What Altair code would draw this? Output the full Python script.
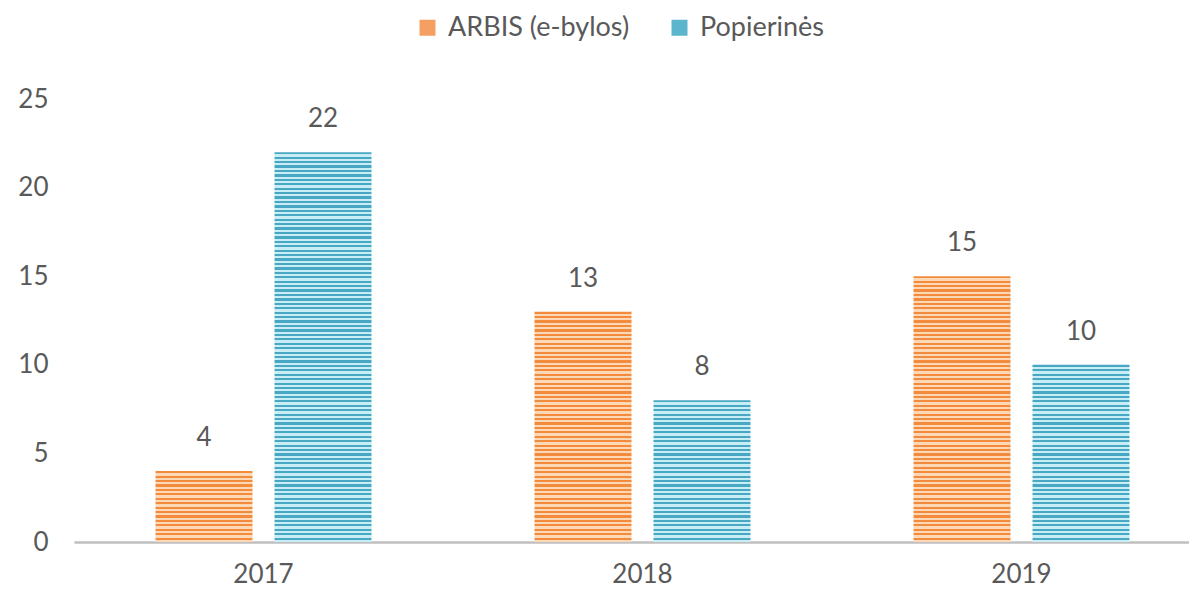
import altair as alt
import pandas as pd

# ---- data ----
years = ["2017", "2018", "2019"]
series = ["ARBIS (e-bylos)", "Popierinės"]
arbis = [4, 13, 15]
popierines = [22, 8, 10]
y_ticks = [0, 5, 10, 15, 20, 25]

# ---- styles ----
dark = {series[0]: "#F28B3B", series[1]: "#48A7C3"}
light = {series[0]: "#FDD8B6", series[1]: "#C8EDF4"}
legend_col = ["#F4A062", "#5DB4CD"]
txt = "#595959"
FONT = "Lato"

rows = []
for yr, a, p in zip(years, arbis, popierines):
    rows.append({"year": yr, "series": series[0], "value": a})
    rows.append({"year": yr, "series": series[1], "value": p})
df = pd.DataFrame(rows)


def stripes(d, l, n):
    stops = []
    for i in range(n):
        a = i / n
        b = (i + 0.5) / n
        c = (i + 1) / n
        stops += [
            alt.GradientStop(offset=a, color=d),
            alt.GradientStop(offset=b, color=d),
            alt.GradientStop(offset=b, color=l),
            alt.GradientStop(offset=c, color=l),
        ]
    return alt.LinearGradient(gradient="linear", x1=0, y1=0, x2=0, y2=1, stops=stops)


x_enc = alt.X(
    "year:N",
    scale=alt.Scale(domain=years, range=[0, 1137], paddingInner=0, paddingOuter=0),
    axis=alt.Axis(
        title=None, labelAngle=0, ticks=False, labelFontSize=26, labelColor=txt,
        labelFont=FONT, labelPadding=19, domainColor="#BFBFBF", domainWidth=2.5,
        grid=False,
    ),
)
xo_enc = alt.XOffset(
    "series:N", scale=alt.Scale(domain=series, paddingInner=0.185, paddingOuter=0.685)
)
y_enc = alt.Y(
    "value:Q",
    scale=alt.Scale(domain=[0, 25], nice=False),
    axis=alt.Axis(
        title=None, values=y_ticks, domain=False, ticks=False, grid=False,
        labelFontSize=26, labelColor=txt, labelFont=FONT, labelPadding=26,
    ),
)

legend_layer = alt.Chart().mark_bar(opacity=0).encode(
    x=x_enc, xOffset=xo_enc, y=y_enc,
    color=alt.Color(
        "series:N",
        scale=alt.Scale(domain=series, range=legend_col),
        legend=alt.Legend(
            title=None, orient="none", direction="horizontal", legendX=340, legendY=-85,
            symbolType="square", symbolSize=256, symbolOpacity=1, symbolStrokeWidth=0,
            labelFontSize=27, labelColor=txt, labelFont=FONT, labelOffset=7,
            labelLimit=400, columnPadding=36,
        ),
    ),
)

bar_layers = []
for yr, a, p in zip(years, arbis, popierines):
    for s, v in ((series[0], a), (series[1], p)):
        bar_layers.append(
            alt.Chart()
            .transform_filter((alt.datum.year == yr) & (alt.datum.series == s))
            .mark_bar(fill=stripes(dark[s], light[s], int(v * 4)))
            .encode(x=x_enc, xOffset=xo_enc, y=y_enc)
        )

text_layer = alt.Chart().mark_text(
    dy=-33, fontSize=26, color=txt, font=FONT
).encode(x=x_enc, xOffset=xo_enc, y=y_enc, text="value:Q")

chart = alt.layer(legend_layer, *bar_layers, text_layer, data=df).properties(
    width=1115,
    height=443,
    padding={"left": 66, "top": 91, "right": 0, "bottom": 50},
    autosize=alt.AutoSizeParams(type="none"),
).configure(font=FONT).configure_view(stroke=None, strokeWidth=0)

chart.save("out.html", embed_options={"renderer": "svg", "actions": False})
